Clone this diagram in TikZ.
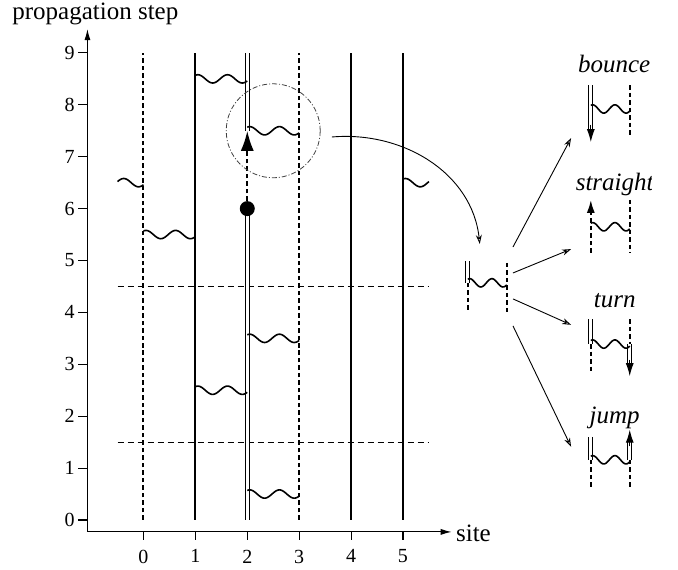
\documentclass[tikz,border=0pt]{standalone}
\usepackage{fontspec}
\setmainfont{Liberation Serif}
\usepackage{tikz}
\usetikzlibrary{arrows.meta,positioning}
\newcommand{\wavepiece}[5]{%
  \draw[wavefront] plot[domain=#4:#5, samples=40, smooth, variable=\ph]
    ({#1+#3*\ph}, {#2+0.08*sin(630*\ph+60)});}
\tikzset{
  axisline/.style={line width=1.1pt, {Latex[length=11pt,width=6pt]}-{Latex[length=11pt,width=6pt]}},
  tickline/.style={line width=1.1pt},
  ticklabel/.style={font=\fontsize{20}{20}\selectfont, inner sep=0pt},
  axislabel/.style={font=\fontsize{25}{25}\selectfont, inner sep=0pt},
  caselabel/.style={font=\fontsize{25}{25}\selectfont\itshape, inner sep=0pt, anchor=base},
  worldline/.style={line width=2pt},
  ghostline/.style={line width=2pt, dash pattern=on 4.5pt off 3pt},
  trackline/.style={double, line width=1.1pt, double distance=2.8pt},
  cutline/.style={line width=1pt, dash pattern=on 6pt off 4pt},
  wavefront/.style={line width=1.6pt},
  zoomring/.style={draw=black!75, line width=0.8pt, circle, inner sep=0pt,
    minimum size=94pt, dash pattern=on 5pt off 2pt on 1pt off 2pt},
  hitdot/.style={fill=black, circle, inner sep=0pt, minimum size=15pt},
  bigtip/.style={-{Latex[length=20pt,width=13pt]}},
  smalltip/.style={line width=1.2pt, -{Latex[length=13pt,width=8pt]}},
  ruleline/.style={line width=0.9pt, -{Stealth[open,length=9pt,width=6pt]}}
}
\begin{document}
\begin{tikzpicture}[x=51.9pt, y=51.9pt]
  \useasboundingbox (-2.765,-0.963) rectangle (10.30,10.02);
  \coordinate (ytop) at (-1.08,9.46);
  \coordinate (xend) at (5.94,-0.23);
  \draw[axisline] (ytop) |- (xend);
  \foreach \k in {0,...,9}
    \draw[tickline] (-1.08,\k) -- (-1.27,\k) node[left=2.5pt, ticklabel] {\k};
  \foreach \s in {0,...,5}
    \draw[tickline] (\s,-0.23) -- (\s,-0.39) node[below=9pt, ticklabel] {\s};
  \node[axislabel, anchor=base west] (steplabel) at (-2.53,9.65) {propagation step};
  \node[axislabel, anchor=base west] (sitelabel) at (6.02,-0.42) {site};

  \foreach \s in {0,3} \draw[ghostline] (\s,0) -- (\s,9);
  \foreach \s in {1,4,5} \draw[worldline] (\s,0) -- (\s,9);
  \draw[cutline] (-0.5,1.5) -- (5.5,1.5);
  \draw[cutline] (-0.5,4.5) -- (5.5,4.5);
  \draw[trackline] (2,0) -- (2,6);
  \coordinate (turnpt) at (2,7.5);
  \draw[trackline] (turnpt) -- (2,9);
  \node[hitdot] (hit) at (2,6) {};
  \draw[ghostline, bigtip] (hit) -- (turnpt);

  \wavepiece{1}{8.5}{1}{0}{1}
  \wavepiece{2}{7.5}{1}{0}{1}
  \wavepiece{5}{6.5}{1}{0}{0.5}
  \wavepiece{-1}{6.5}{1}{0.5}{1}
  \wavepiece{0}{5.5}{1}{0}{1}
  \wavepiece{2}{3.5}{1}{0}{1}
  \wavepiece{1}{2.5}{1}{0}{1}
  \wavepiece{2}{0.5}{1}{0}{1}

  \node[zoomring] (lens) at (2.5,7.5) {};
  \coordinate (lensout) at (3.63,7.38);
  \coordinate (hubin) at (6.48,5.32);
  \draw[ruleline] (lensout) to[out=5, in=96] (hubin);

  % incoming pair
  \begin{scope}[shift={(6.25,4.57)}]
    \draw[trackline] (0,0) -- (0,0.42);
    \draw[ghostline] (0,0) -- (0,-0.56);
    \draw[ghostline] (0.75,0.385) -- (0.75,-0.56);
    \wavepiece{0}{0}{0.75}{0}{1}
  \end{scope}

  \foreach \ya/\yb [count=\n] in {5.26/7.36, 4.76/5.22, 4.26/3.76, 3.74/1.41} {
    \coordinate (out\n) at (7.12,\ya);
    \coordinate (in\n) at (8.24,\yb);
    \draw[ruleline] (out\n) -- (in\n);
  }

  % bounce
  \begin{scope}[shift={(8.62,7.92)}]
    \draw[trackline] (0,0.46) -- (0,-0.38);
    \draw[smalltip] (0,-0.3) -- (0,-0.64);
    \draw[ghostline] (0.75,0.46) -- (0.75,-0.55);
    \wavepiece{0}{0}{0.75}{0}{1}
  \end{scope}
  % straight
  \begin{scope}[shift={(8.62,5.65)}]
    \draw[ghostline, smalltip, line width=2pt] (0,-0.5) -- (0,0.52);
    \draw[ghostline] (0.75,0.52) -- (0.75,-0.5);
    \wavepiece{0}{0}{0.75}{0}{1}
  \end{scope}
  % turn
  \begin{scope}[shift={(8.62,3.39)}]
    \draw[trackline] (0,0.48) -- (0,0);
    \draw[ghostline] (0,0) -- (0,-0.52);
    \draw[ghostline] (0.75,0.48) -- (0.75,0);
    \draw[trackline] (0.75,0) -- (0.75,-0.38);
    \draw[smalltip] (0.75,-0.3) -- (0.75,-0.62);
    \wavepiece{0}{0}{0.75}{0}{1}
  \end{scope}
  % jump
  \begin{scope}[shift={(8.62,1.16)}]
    \draw[trackline] (0,0.44) -- (0,0);
    \draw[ghostline] (0,0) -- (0,-0.52);
    \draw[trackline] (0.75,0) -- (0.75,0.34);
    \draw[smalltip] (0.75,0.26) -- (0.75,0.58);
    \draw[ghostline] (0.75,0) -- (0.75,-0.52);
    \wavepiece{0}{0}{0.75}{0}{1}
  \end{scope}

  \begin{scope}
    \clip (-2.765,-0.963) rectangle (9.79,10.02);
    \node[caselabel] (bouncelabel) at (9.07,8.62) {bounce};
    \node[caselabel] (straightlabel) at (9.08,6.35) {straight};
    \node[caselabel] (turnlabel) at (9.08,4.09) {turn};
    \node[caselabel] (jumplabel) at (9.08,1.86) {jump};
  \end{scope}
\end{tikzpicture}
\end{document}
